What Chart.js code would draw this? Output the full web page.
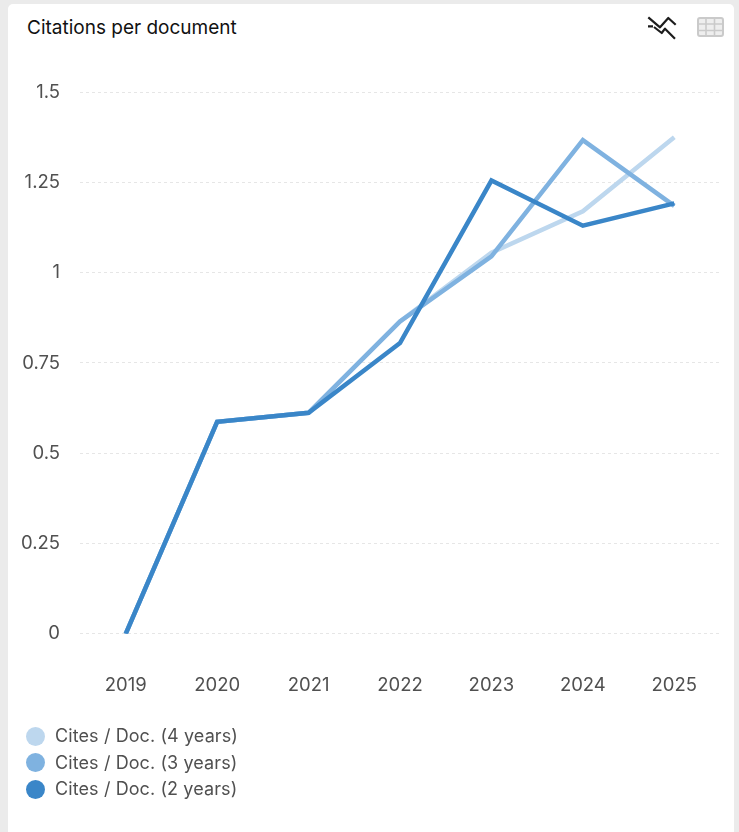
<!DOCTYPE html>
<html>
<head>
<meta charset="utf-8">
<title>Citations per document</title>
<script src="https://cdn.jsdelivr.net/npm/chart.js@4"></script>
<style>
    html, body { margin: 0; padding: 0; background: #ebebeb; }
    body { width: 739px; height: 832px; position: relative; overflow: hidden; font-family: Inter, sans-serif; }
    .card { position: absolute; left: 8px; top: 4px; width: 726px; height: 828px; background: #fff; border-radius: 5px 5px 0 0; }
    .title { position: absolute; left: 27px; top: 17px; font-size: 19px; line-height: 22px; color: #111; }
    .icons { position: absolute; left: 645px; top: 13px; }
    .plot { position: absolute; left: 0; top: 60.5px; width: 739px; height: 669px; }
    .legend { position: absolute; left: 26px; top: 723px; font-size: 18px; letter-spacing: 0.1px; color: #505050; }
    .legend div { height: 26.5px; line-height: 26px; display: flex; align-items: center; }
    .legend i { width: 19px; height: 19px; border-radius: 50%; margin-right: 10px; }
</style>
</head>
<body>
<div class="card"></div>
<div class="title">Citations per document</div>
<svg class="icons" width="84" height="30" fill="none">
    <path d="M3.3 4.3 L15 14.3 L23.3 5 L30.7 11.7" stroke="#1c1c1c" stroke-width="2.2" stroke-linejoin="round"/>
    <path d="M3 13.3 H8 M9 14 L16.7 20 L20 15.7 L30 25.7" stroke="#1c1c1c" stroke-width="2.2" stroke-linejoin="round"/>
    <rect x="53" y="5" width="25" height="18" rx="2" fill="#eeeeee" stroke="#cacaca" stroke-width="2"/>
    <path d="M53 11 H78 M53 17.5 H78 M61 5 V23 M69.5 5 V23" stroke="#cacaca" stroke-width="1.6"/>
</svg>
<div class="plot"><canvas id="myChart"></canvas></div>
<div class="legend" id="legend"></div>

<script>
// Chart data
const years = ['2019', '2020', '2021', '2022', '2023', '2024', '2025'];
const cites4Years = [0, 0.587, 0.612, 0.865, 1.055, 1.17, 1.375];
const cites3Years = [0, 0.587, 0.612, 0.865, 1.045, 1.367, 1.185];
const cites2Years = [0, 0.587, 0.612, 0.805, 1.255, 1.13, 1.192];

const seriesLabels = ['Cites / Doc. (4 years)', 'Cites / Doc. (3 years)', 'Cites / Doc. (2 years)'];
const seriesColors = ['#bdd7ee', '#7fb2e0', '#3a86c8'];

function makeDataset(index, values) {
    return {
        label: seriesLabels[index],
        data: values,
        borderColor: seriesColors[index],
        backgroundColor: seriesColors[index],
        borderWidth: 4.5,
        pointRadius: 0,
        tension: 0,
        fill: false,
        order: seriesLabels.length - index // darkest line stays on top
    };
}

const config = {
    type: 'line',
    data: {
        labels: years,
        datasets: [
            makeDataset(0, cites4Years),
            makeDataset(1, cites3Years),
            makeDataset(2, cites2Years)
        ]
    },
    options: {
        responsive: true,
        maintainAspectRatio: false,
        animation: false,
        layout: { padding: { left: 0, right: 19, top: 0, bottom: 0 } },
        plugins: {
            legend: { display: false },
            tooltip: { enabled: false }
        },
        scales: {
            x: {
                offset: true,
                grid: { display: false },
                border: { display: false },
                ticks: { color: '#505050', font: { family: 'Inter', size: 18.5 }, padding: 33, maxRotation: 0 }
            },
            y: {
                min: 0,
                max: 1.5,
                afterFit: (axis) => { axis.width = 80; },
                grid: { color: '#e6e6e6', drawTicks: false },
                border: { display: false, dash: [3, 3] },
                ticks: {
                    stepSize: 0.25,
                    color: '#505050',
                    font: { family: 'Inter', size: 18.5 },
                    padding: 20,
                    callback: (value) => String(value)
                }
            }
        }
    }
};

const ctx = document.getElementById('myChart').getContext('2d');
new Chart(ctx, config);

// Legend list
const legendBox = document.getElementById('legend');
seriesLabels.forEach((label, i) => {
    const row = document.createElement('div');
    const dot = document.createElement('i');
    dot.style.background = seriesColors[i];
    row.appendChild(dot);
    row.appendChild(document.createTextNode(label));
    legendBox.appendChild(row);
});
</script>
</body>
</html>
